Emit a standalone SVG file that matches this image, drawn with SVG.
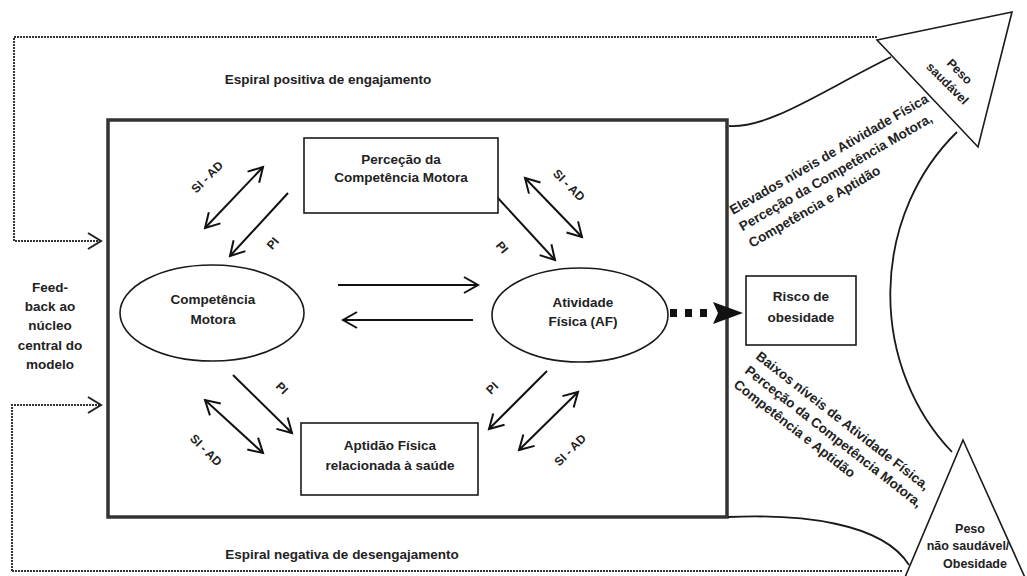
<svg xmlns="http://www.w3.org/2000/svg" width="1027" height="576" viewBox="0 0 1027 576">
<style>
  text { font-family: "Liberation Sans", Arial, sans-serif; font-weight: bold; fill: #222; }
  .n { font-size: 13.5px; text-anchor: middle; }
  .s { font-size: 12px; text-anchor: middle; }
  .r { font-size: 13.5px; }
  .shape { fill: #fff; stroke: #1a1a1a; stroke-width: 1.6; }
  .ln { fill: none; stroke: #1a1a1a; stroke-width: 1.8; }
  .arw { fill: none; stroke: #111; stroke-width: 2; marker-end: url(#oa); }
  .dbl { fill: none; stroke: #111; stroke-width: 2; marker-end: url(#oa); marker-start: url(#oa); }
  .fb { fill: none; stroke: #333; stroke-width: 2; stroke-dasharray: 2 1; }
</style>
<defs>
  <marker id="oa" markerUnits="userSpaceOnUse" markerWidth="22" markerHeight="22" viewBox="-17 -11 22 22" refX="0" refY="0" orient="auto-start-reverse">
    <path d="M-14,-8 L0,0 L-14,8" fill="none" stroke="#111" stroke-width="2"/>
  </marker>
</defs>

<g id="main-box">
  <rect x="108" y="120" width="619" height="397" fill="#fff" stroke="#333" stroke-width="3.5"/>
</g>

<g id="connectors">
  <path class="fb" d="M877,37 H14 V241 H100"/>
  <path class="fb" d="M12,571 V405 H100"/>
  <path class="fb" d="M12,571 H903"/>
  <path d="M88,233 L101,241 L88,249" fill="none" stroke="#222" stroke-width="2"/>
  <path d="M88,397 L101,405 L88,413" fill="none" stroke="#222" stroke-width="2"/>
  <path class="ln" d="M729,126 C770,128 820,92 891,57"/>
  <path class="ln" d="M957,132 A200,218 0 0 0 952,452"/>
  <path class="ln" d="M728,517 C800,514 882,522 909,565"/>
  <line class="arw" x1="338" y1="285" x2="478" y2="285"/>
  <line class="arw" x1="473" y1="320" x2="343" y2="320"/>
  <line class="dbl" x1="205" y1="228" x2="263" y2="167"/>
  <line class="arw" x1="288" y1="193" x2="230" y2="256"/>
  <line class="dbl" x1="525" y1="178" x2="582" y2="237"/>
  <line class="arw" x1="497" y1="197" x2="555" y2="260"/>
  <line class="arw" x1="233" y1="375" x2="292" y2="433"/>
  <line class="dbl" x1="205" y1="400" x2="263" y2="453"/>
  <line class="arw" x1="547" y1="371" x2="489" y2="429"/>
  <line class="dbl" x1="578" y1="392" x2="519" y2="450"/>
  <line x1="670" y1="313" x2="710" y2="313" stroke="#111" stroke-width="8" stroke-dasharray="7 8"/>
  <polygon points="713,302 743,313 713,324 718,313" fill="#111"/>
  <text class="s" transform="translate(210,180) rotate(-45)">SI - AD</text>
  <text class="s" transform="translate(276,246) rotate(-50)">PI</text>
  <text class="s" transform="translate(566,188) rotate(45)">SI - AD</text>
  <text class="s" transform="translate(499,250) rotate(50)">PI</text>
  <text class="s" transform="translate(279,391) rotate(45)">PI</text>
  <text class="s" transform="translate(203,453) rotate(45)">SI - AD</text>
  <text class="s" transform="translate(495,391) rotate(-45)">PI</text>
  <text class="s" transform="translate(573,453) rotate(-45)">SI - AD</text>
</g>

<g id="percecao">
  <rect class="shape" x="304" y="138" width="194" height="75"/>
  <text class="n" x="401" y="164">Perceção da</text>
  <text class="n" x="401" y="182">Competência Motora</text>
</g>

<g id="competencia">
  <ellipse class="shape" cx="212" cy="313" rx="92" ry="48"/>
  <text class="n" x="213" y="304">Competência</text>
  <text class="n" x="213" y="324">Motora</text>
</g>

<g id="atividade">
  <ellipse class="shape" cx="580" cy="315" rx="88" ry="47"/>
  <text class="n" x="583" y="307">Atividade</text>
  <text class="n" x="583" y="326">Física (AF)</text>
</g>

<g id="aptidao">
  <rect class="shape" x="301" y="423" width="177" height="72"/>
  <text class="n" x="390" y="450">Aptidão Física</text>
  <text class="n" x="390" y="470">relacionada à saúde</text>
</g>

<g id="risco">
  <rect class="shape" x="746" y="276" width="110" height="69"/>
  <text class="n" x="801" y="301">Risco de</text>
  <text class="n" x="801" y="322">obesidade</text>
</g>

<g id="peso-saudavel">
  <polygon class="shape" points="877,40 1012,12 978,147"/>
  <g transform="translate(953,78) rotate(45)">
    <text class="s" x="0" y="-5" style="font-size:12.5px">Peso</text>
    <text class="s" x="0" y="12" style="font-size:12.5px">saudável</text>
  </g>
</g>

<g id="peso-nao-saudavel">
  <polygon class="shape" points="963,440 1027,582 903,582"/>
  <text class="n" x="970" y="533" style="font-size:12.5px">Peso</text>
  <text class="n" x="968" y="550" style="font-size:12.5px">não saudável/</text>
  <text class="n" x="975" y="568" style="font-size:12.5px">Obesidade</text>
</g>

<g id="feedback">
  <text class="n" x="50" y="292">Feed-</text>
  <text class="n" x="50" y="311">back ao</text>
  <text class="n" x="50" y="330">núcleo</text>
  <text class="n" x="50" y="350">central do</text>
  <text class="n" x="50" y="369">modelo</text>
</g>

<g id="espiral-positiva">
  <text class="n" x="328" y="84">Espiral positiva de engajamento</text>
</g>
<g id="espiral-negativa">
  <text class="n" x="342" y="559">Espiral negativa de desengajamento</text>
</g>

<g id="elevados">
  <g transform="translate(733,215) rotate(-30)">
    <text class="r" x="0" y="0">Elevados níveis de Atividade Física</text>
    <text class="r" x="0" y="19">Perceção da Competência Motora,</text>
    <text class="r" x="0" y="38">Competência e Aptidão</text>
  </g>
</g>

<g id="baixos">
  <g transform="translate(755,358) rotate(38)">
    <text class="r" x="0" y="0">Baixos níveis de Atividade Física,</text>
    <text class="r" x="0" y="18">Perceção da Competência Motora,</text>
    <text class="r" x="0" y="36">Competência e Aptidão</text>
  </g>
</g>
</svg>
